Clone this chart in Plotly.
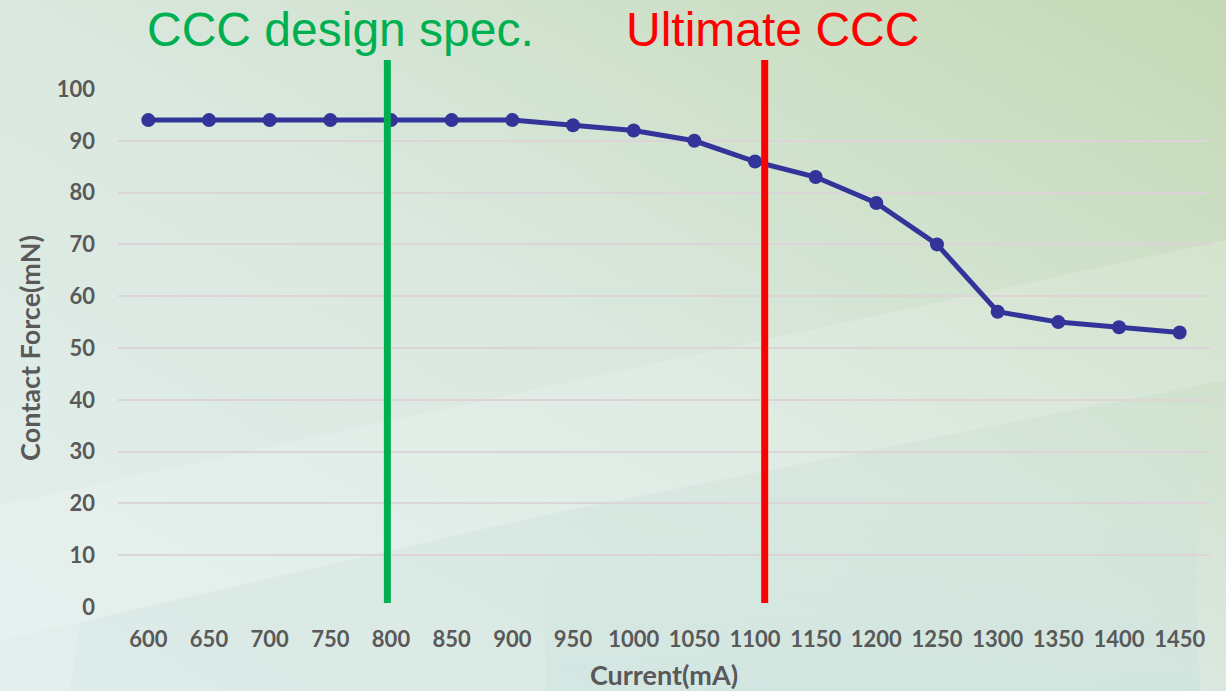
import base64
import plotly.graph_objects as go

# Contact force measured against applied current
current_ma = [600, 650, 700, 750, 800, 850, 900, 950, 1000, 1050,
              1100, 1150, 1200, 1250, 1300, 1350, 1400, 1450]
contact_force_mn = [94, 94, 94, 94, 94, 94, 94, 93, 92, 90,
                    86, 83, 78, 70, 57, 55, 54, 53]

# Reference current levels marked on the chart
design_spec_ma = 797
ultimate_ccc_ma = 1108

y_ticks = [0, 10, 20, 30, 40, 50, 60, 70, 80, 90, 100]

W, H = 1226, 691
ML, MR, MT, MB = 118, 16, 89, 84
PW, PH = W - ML - MR, H - MT - MB

# Soft green backdrop drawn as an inline SVG
bg_svg = f"""<svg xmlns='http://www.w3.org/2000/svg' width='{W}' height='{H}' viewBox='0 0 {W} {H}' preserveAspectRatio='none'>
<defs>
<linearGradient id='g' x1='0' y1='1' x2='1' y2='0'>
<stop offset='0' stop-color='#e3efee'/>
<stop offset='0.5' stop-color='#dae8df'/>
<stop offset='1' stop-color='#c4d9b5'/>
</linearGradient>
<linearGradient id='t' x1='0' y1='0' x2='0' y2='1'>
<stop offset='0' stop-color='#cfe3dc' stop-opacity='0.1'/>
<stop offset='1' stop-color='#c6e0dc' stop-opacity='0.45'/>
</linearGradient>
</defs>
<rect width='{W}' height='{H}' fill='url(#g)'/>
<polygon points='0,505 1226,240 1226,380 545,515 80,622 0,640' fill='#ffffff' fill-opacity='0.16'/>
<polygon points='545,515 1190,385 1200,{H} 545,{H}' fill='url(#t)'/>
<polygon points='80,622 545,515 545,{H} 70,{H}' fill='#d0e4e0' fill-opacity='0.25'/>
</svg>"""
bg_uri = "data:image/svg+xml;base64," + base64.b64encode(bg_svg.encode()).decode()

fig = go.Figure()

fig.add_trace(go.Scatter(
    x=current_ma,
    y=contact_force_mn,
    mode="lines+markers",
    line=dict(color="#33349a", width=5),
    marker=dict(color="#33349a", size=14),
    showlegend=False,
    hoverinfo="x+y",
))

# Vertical reference lines
for xv, col in [(design_spec_ma, "#00b050"), (ultimate_ccc_ma, "#ff0000")]:
    fig.add_shape(type="line", xref="x", yref="paper",
                  x0=xv, x1=xv, y0=4 / PH, y1=1 + 29 / PH,
                  line=dict(color=col, width=7), layer="above")

fig.add_annotation(text="CCC design spec.", xref="paper", yref="paper",
                   x=(145 - ML) / PW, y=1 + 59.5 / PH, xanchor="left", yanchor="middle",
                   showarrow=False,
                   font=dict(family="Liberation Sans, Arial", size=48, color="#00b050"))
fig.add_annotation(text="Ultimate CCC", xref="paper", yref="paper",
                   x=(624 - ML) / PW, y=1 + 59.5 / PH, xanchor="left", yanchor="middle",
                   showarrow=False,
                   font=dict(family="Liberation Sans, Arial", size=48, color="#ff0000"))

tick_font = dict(family="Lato", size=22, color="#595959", weight=700)
title_font = dict(family="Lato", size=27, color="#595959", weight=700)

fig.update_layout(
    width=W, height=H,
    margin=dict(l=ML, r=MR, t=MT, b=MB, pad=0, autoexpand=False),
    paper_bgcolor="#dbe8df",
    plot_bgcolor="rgba(0,0,0,0)",
    images=[dict(source=bg_uri, xref="paper", yref="paper",
                 x=-ML / PW, y=1 + MT / PH, sizex=W / PW, sizey=H / PH,
                 xanchor="left", yanchor="top", sizing="stretch", layer="below")],
    xaxis=dict(
        range=[575, 1475], automargin=False,
        tickmode="array", tickvals=current_ma,
        ticktext=[str(v) for v in current_ma],
        showgrid=False, zeroline=False, showline=False,
        ticks="", ticklabelstandoff=17,
        tickfont=tick_font,
        title=dict(text="Current(mA)", font=title_font, standoff=17),
    ),
    yaxis=dict(
        range=[0, 100], automargin=False,
        tickmode="array", tickvals=y_ticks,
        showgrid=True, gridcolor="#dcd5d7", gridwidth=2,
        zeroline=False, showline=False,
        ticks="", ticklabelstandoff=22,
        tickfont=tick_font,
        title=dict(text="Contact Force(mN)", font=title_font, standoff=8),
    ),
)

fig.write_html("out.html")
